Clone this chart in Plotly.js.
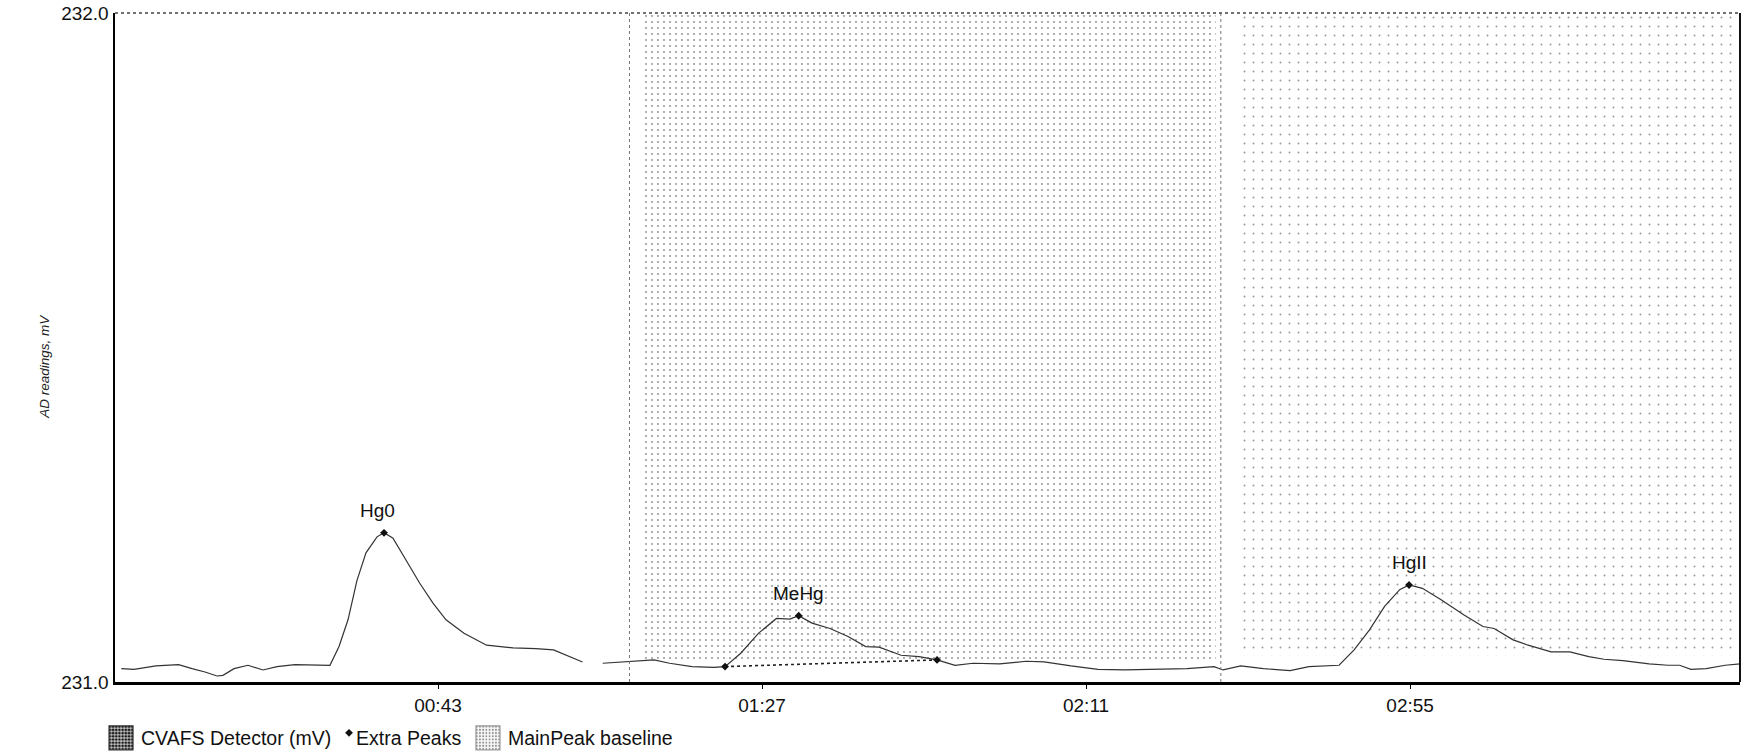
<!DOCTYPE html>
<html>
<head>
<meta charset="utf-8">
<script src="https://cdn.plot.ly/plotly-3.0.1.min.js"></script>
<style>
html,body{margin:0;padding:0;background:#fff;}
#chart{width:1743px;height:751px;}
</style>
</head>
<body>
<div id="chart"></div>
<script>
// ---- data (time in seconds, reading in mV) ----
const detTime = [0, 1.72, 4.7, 7.77, 9.6, 11.36, 12.99, 13.8, 15.3, 17.2, 19.23, 21.14, 23.58, 25.96, 28.33,
  29.56, 30.78, 32.0, 33.22, 34.72, 35.67, 36.89, 38.65, 40.5, 42.32, 44.09, 46.53, 49.6, 53.19, 56.27, 58.69,
  60.52, 62.62, null, 65.37, 68.4, 72.33, 74.45, 77.49, 80.48, 81.98, 84.11, 86.54, 88.96, 90.78, 91.98, 93.79,
  96.23, 98.68, 101.08, 102.89, 105.88, 108.32, 110.77, 113.21, 115.65, 119.27, 122.85, 125.3, 128.96, 132.63,
  136.24, 141.05, 144.72, 148.38, 149.6, 152.01, 155.1, 158.7, 161.27, 165.36, 167.4, 169.49, 171.54, 173.59,
  174.86, 176.67, 179.21, 182.33, 184.89, 186.41, 188.99, 191.03, 194.15, 196.7, 199.27, 201.33, 203.9, 207.46,
  210.04, 211.6, 213.13, 215.2, 217.8, 219.8];
const detValue = [231.020, 231.019, 231.024, 231.026, 231.020, 231.015, 231.009, 231.010, 231.020, 231.025,
  231.018, 231.023, 231.026, 231.026, 231.025, 231.053, 231.093, 231.152, 231.193, 231.217, 231.223, 231.215,
  231.182, 231.148, 231.118, 231.093, 231.073, 231.055, 231.051, 231.050, 231.048, 231.040, 231.030, null,
  231.028, 231.030, 231.033, 231.028, 231.023, 231.022, 231.023, 231.043, 231.073, 231.095, 231.094, 231.099,
  231.088, 231.080, 231.068, 231.053, 231.052, 231.040, 231.038, 231.033, 231.025, 231.028, 231.027, 231.031,
  231.030, 231.024, 231.019, 231.018, 231.019, 231.020, 231.023, 231.018, 231.024, 231.020, 231.017, 231.023,
  231.025, 231.048, 231.078, 231.113, 231.138, 231.145, 231.140, 231.123, 231.100, 231.083, 231.080, 231.063,
  231.055, 231.045, 231.045, 231.038, 231.034, 231.032, 231.027, 231.025, 231.025, 231.019, 231.020, 231.025,
  231.027];

const peakLabels = ["Hg0", "MeHg", "HgII"];
const peakTime = [35.67, 91.98, 174.86];
const peakValue = [231.223, 231.099, 231.145];

const mehgBaseTime = [81.98, 110.77];
const mehgBaseValue = [231.023, 231.033];

const gateTimes = [69.0, 149.3];

const regionStart = [70.7, 152.2];
const regionEnd = [148.6, 219.0];
const regionBottom = [231.033, 231.040];
const regionTop = [232.0, 232.0];

const xTickVals = [43, 87, 131, 175];
const xTickText = ["00:43", "01:27", "02:11", "02:55"];
const yTickVals = [231.0, 232.0];
const yTickText = ["231.0", "232.0"];

const FONT = "Liberation Sans, Arial, sans-serif";

// ---- traces ----
const traces = [];
const patterns = [
  {shape: ".", fgcolor: "#8a8a8a", bgcolor: "#ffffff", size: 6, solidity: 0.07},
  {shape: ".", fgcolor: "#999999", bgcolor: "#ffffff", size: 9, solidity: 0.035}
];
for (let i = 0; i < regionStart.length; i++) {
  traces.push({
    type: "scatter", mode: "lines",
    x: [regionStart[i], regionEnd[i], regionEnd[i], regionStart[i], regionStart[i]],
    y: [regionBottom[i], regionBottom[i], regionTop[i], regionTop[i], regionBottom[i]],
    fill: "toself", fillcolor: "rgba(0,0,0,0)", fillpattern: patterns[i],
    line: {width: 0, color: "rgba(0,0,0,0)"},
    name: "MainPeak baseline", showlegend: false, hoverinfo: "skip"
  });
}
// legend-only swatch for the detector (no drawn coordinates)
traces.push({
  type: "bar", x: [null], y: [null], legend: "legend",
  marker: {color: "#bbbbbb", line: {color: "#333", width: 0.6},
    pattern: {shape: ".", fgcolor: "#111", bgcolor: "#bdbdbd", size: 2, solidity: 0.5}},
  name: "CVAFS Detector (mV)"
});
traces.push({
  type: "scatter", mode: "lines", x: detTime, y: detValue,
  line: {color: "#333", width: 1.2}, connectgaps: false,
  name: "CVAFS Detector (mV)", showlegend: false
});
traces.push({
  type: "scatter", mode: "lines", x: mehgBaseTime, y: mehgBaseValue,
  line: {color: "#222", width: 1.6, dash: "dot"},
  name: "MainPeak baseline", showlegend: false
});
traces.push({
  type: "scatter", mode: "markers", legend: "legend2",
  x: peakTime.concat(mehgBaseTime), y: peakValue.concat(mehgBaseValue),
  marker: {symbol: "diamond", size: 6, color: "#111"},
  name: "Extra Peaks"
});
// legend swatch for baseline (light stipple)
traces.push({
  type: "bar", x: [null], y: [null], legend: "legend3",
  marker: {color: "#f2f2f2", line: {color: "#999", width: 0.6},
    pattern: {shape: ".", fgcolor: "#888", bgcolor: "#f6f6f6", size: 2, solidity: 0.25}},
  name: "MainPeak baseline"
});

const annotations = peakLabels.map((t, i) => ({
  x: peakTime[i], y: peakValue[i], xref: "x", yref: "y",
  text: t, showarrow: false, yshift: 22, xshift: (i === 0 ? -7 : 0),
  font: {family: FONT, size: 19, color: "#111"}
}));
annotations.push({
  xref: "paper", yref: "paper", x: 0, y: 0.472, xshift: -80,
  text: "<i>AD readings, mV</i>", showarrow: false, textangle: -90,
  font: {family: FONT, size: 13.5, color: "#222"}
});

const shapes = gateTimes.map(t => ({
  type: "line", xref: "x", yref: "paper", x0: t, x1: t, y0: 0, y1: 1,
  line: {color: "#777", width: 1, dash: "dot"}
}));
shapes.push({type: "line", xref: "paper", yref: "paper", x0: 0, x1: 1, y0: 1, y1: 1,
  line: {color: "#444", width: 1.5, dash: "dot"}});
shapes.push({type: "line", xref: "paper", yref: "paper", x0: 1, x1: 1, y0: 0, y1: 1,
  line: {color: "#111", width: 2}});

function legendAt(xPaper) {
  return {orientation: "h", x: xPaper, xanchor: "left", y: -0.084, yanchor: "middle",
    font: {family: FONT, size: 19.5, color: "#111"}, itemwidth: 30,
    bgcolor: "rgba(0,0,0,0)", borderwidth: 0};
}

const layout = {
  width: 1743, height: 751,
  margin: {l: 115, r: 3, t: 13, b: 69, pad: 0, autoexpand: false},
  paper_bgcolor: "#fff", plot_bgcolor: "#fff",
  font: {family: FONT, size: 19, color: "#111"},
  showlegend: true,
  legend: legendAt(-0.0086),
  legend2: legendAt(0.1237),
  legend3: legendAt(0.2172),
  xaxis: {range: [-0.86, 219.8], tickvals: xTickVals, ticktext: xTickText, automargin: false,
    showgrid: false, zeroline: false, showline: true, linecolor: "#000", linewidth: 3,
    ticks: "outside", ticklen: 4, tickcolor: "#000", tickfont: {size: 19, color: "#111"}},
  yaxis: {range: [231.0, 232.0], tickvals: yTickVals, ticktext: yTickText, automargin: false,
    showgrid: false, zeroline: false, showline: true, linecolor: "#000", linewidth: 2.5,
    ticks: "", tickfont: {size: 19, color: "#111"}},
  annotations: annotations,
  shapes: shapes
};

const gd = document.getElementById("chart");
function tweakLegend() {
  // bigger square swatches, as in the reference
  ["g.legend", "g.legend3"].forEach(sel => {
    gd.querySelectorAll(sel + " g.legendpoints path").forEach(p => {
      if (p.dataset.origT === undefined) p.dataset.origT = p.getAttribute("transform") || "";
      p.setAttribute("transform", (p.dataset.origT + " scale(2)").trim());
    });
  });
  // small "Extra Peaks" mark sits close to its text, slightly raised
  gd.querySelectorAll("g.legend2 g.legendpoints").forEach(g => g.setAttribute("transform", "translate(13,-5)"));
}
Plotly.newPlot(gd, traces, layout, {staticPlot: true, displayModeBar: false}).then(() => {
  tweakLegend();
  setTimeout(tweakLegend, 50);
  setTimeout(tweakLegend, 300);
});
gd.on && gd.on("plotly_afterplot", tweakLegend);
</script>
</body>
</html>
